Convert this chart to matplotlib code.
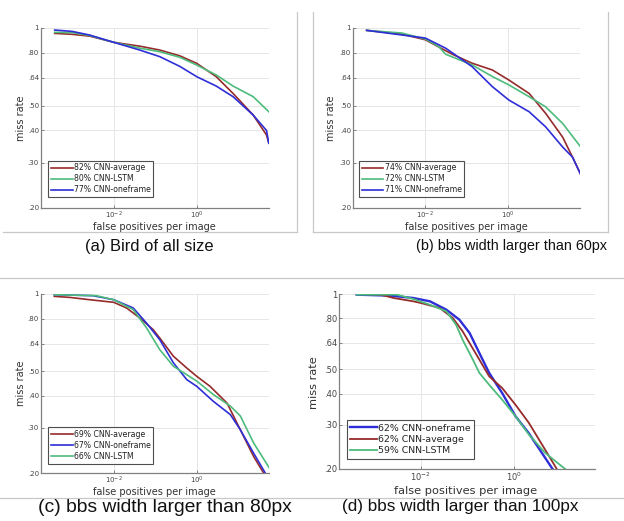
import numpy as np
import matplotlib
matplotlib.use("Agg")
import matplotlib.pyplot as plt
from matplotlib.lines import Line2D
from matplotlib.ticker import NullLocator, FixedLocator, FixedFormatter

# ---------------- data (log10 fppi, miss rate) ----------------
A_AVG_LX = [-3.42, -3.0, -2.58, -2.0, -1.37, -0.89, -0.41, 0.0, 0.47, 0.875, 1.36, 1.68, 1.735]
A_AVG_MR = [0.953, 0.945, 0.930, 0.880, 0.850, 0.821, 0.780, 0.729, 0.647, 0.557, 0.459, 0.384, 0.357]
A_LSTM_LX = [-3.42, -3.0, -2.58, -2.0, -1.37, -0.89, -0.41, 0.0, 0.47, 0.875, 1.36, 1.735]
A_LSTM_MR = [0.962, 0.960, 0.935, 0.880, 0.835, 0.809, 0.770, 0.718, 0.657, 0.595, 0.541, 0.473]
A_ONE_LX = [-3.42, -3.0, -2.58, -2.0, -1.37, -0.89, -0.41, 0.0, 0.47, 0.875, 1.36, 1.68, 1.735]
A_ONE_MR = [0.982, 0.970, 0.939, 0.880, 0.821, 0.774, 0.710, 0.647, 0.595, 0.541, 0.459, 0.400, 0.357]

B_AVG_LX = [-3.42, -2.57, -2.0, -1.35, -0.87, -0.38, 0.02, 0.51, 0.91, 1.32, 1.56, 1.77]
B_AVG_MR = [0.979, 0.947, 0.900, 0.791, 0.730, 0.687, 0.628, 0.557, 0.466, 0.377, 0.315, 0.267]
B_LSTM_LX = [-3.42, -2.57, -2.0, -1.68, -1.51, -0.87, -0.38, 0.02, 0.51, 0.91, 1.32, 1.77]
B_LSTM_MR = [0.979, 0.956, 0.906, 0.848, 0.791, 0.719, 0.648, 0.601, 0.541, 0.494, 0.426, 0.343]
B_ONE_LX = [-3.42, -2.0, -1.51, -0.87, -0.38, 0.02, 0.51, 0.91, 1.32, 1.56, 1.77]
B_ONE_MR = [0.979, 0.914, 0.835, 0.708, 0.592, 0.525, 0.473, 0.413, 0.345, 0.315, 0.267]

C_AVG_LX = [-3.43, -3.06, -2.58, -2.0, -1.69, -1.37, -1.05, -0.89, -0.56, -0.24, 0.0, 0.32, 0.73, 1.05, 1.37, 1.61]
C_AVG_MR = [0.979, 0.970, 0.950, 0.928, 0.882, 0.806, 0.726, 0.673, 0.571, 0.514, 0.477, 0.436, 0.375, 0.295, 0.232, 0.200]
C_ONE_LX = [-3.43, -2.5, -2.0, -1.53, -1.21, -0.89, -0.56, -0.24, 0.0, 0.40, 0.81, 1.05, 1.37, 1.65]
C_ONE_MR = [0.994, 0.985, 0.950, 0.882, 0.770, 0.663, 0.538, 0.463, 0.436, 0.381, 0.338, 0.295, 0.239, 0.200]
C_LSTM_LX = [-3.43, -2.42, -2.0, -1.53, -1.21, -0.89, -0.56, -0.24, 0.0, 0.40, 0.81, 1.05, 1.37, 1.75]
C_LSTM_MR = [0.994, 0.985, 0.950, 0.869, 0.738, 0.606, 0.522, 0.484, 0.457, 0.405, 0.365, 0.334, 0.262, 0.209]

D_ONE_LX = [-3.37, -2.65, -2.16, -1.80, -1.45, -1.17, -0.95, -0.74, -0.53, -0.25, 0.035, 0.32, 0.60, 0.83]
D_ONE_MR = [0.994, 0.985, 0.964, 0.935, 0.866, 0.790, 0.699, 0.581, 0.484, 0.402, 0.325, 0.278, 0.232, 0.200]
D_AVG_LX = [-3.37, -2.86, -2.58, -2.16, -2.0, -1.59, -1.31, -1.10, -0.95, -0.74, -0.53, -0.25, 0.035, 0.32, 0.67, 0.92]
D_AVG_MR = [1.000, 0.994, 0.964, 0.935, 0.921, 0.879, 0.802, 0.710, 0.637, 0.547, 0.469, 0.421, 0.361, 0.306, 0.239, 0.200]
D_LSTM_LX = [-3.37, -2.51, -2.16, -1.80, -1.45, -1.24, -1.10, -0.88, -0.74, -0.53, -0.25, 0.035, 0.32, 0.67, 1.10]
D_LSTM_MR = [0.994, 0.994, 0.955, 0.906, 0.853, 0.754, 0.657, 0.547, 0.484, 0.434, 0.378, 0.325, 0.275, 0.232, 0.200]

LEGEND_A = ["82% CNN-average", "80% CNN-LSTM", "77% CNN-oneframe"]
LEGEND_B = ["74% CNN-average", "72% CNN-LSTM", "71% CNN-oneframe"]
LEGEND_C = ["69% CNN-average", "67% CNN-oneframe", "66% CNN-LSTM"]
LEGEND_D = ["62% CNN-oneframe", "62% CNN-average", "59% CNN-LSTM"]

CAPTIONS = ["(a) Bird of all size", "(b) bbs width larger than 60px",
            "(c) bbs width larger than 80px", "(d) bbs width larger than 100px"]

Y_TICKS = [0.20, 0.30, 0.40, 0.50, 0.64, 0.80, 1.0]
Y_TICKLABELS = [".20", ".30", ".40", ".50", ".64", ".80", "1"]
X_TICKS = [1e-2, 1e0]
X_TICKLABELS = [r"$10^{-2}$", r"$10^{0}$"]

RED = "#962b2b"
GREEN = "#4dbb7c"
BLUE = "#2e2ed8"

# ---------------- figure ----------------
W, H = 624, 521
fig = plt.figure(figsize=(W / 100, H / 100), dpi=100)
fig.patch.set_facecolor("white")


def fx(x):
    return x / W


def fy(y):
    return 1 - y / H


def add_ax(l, r, t, b):
    return fig.add_axes([l / W, 1 - b / H, (r - l) / W, (b - t) / H])


def style(ax, scale=1.0):
    ax.set_xscale("log")
    ax.set_yscale("log")
    ax.set_xlim(10 ** -3.75, 10 ** 1.74)
    ax.set_ylim(0.2, 1.0)
    ax.yaxis.set_major_locator(FixedLocator(Y_TICKS))
    ax.yaxis.set_major_formatter(FixedFormatter(Y_TICKLABELS))
    ax.yaxis.set_minor_locator(NullLocator())
    ax.xaxis.set_major_locator(FixedLocator(X_TICKS))
    ax.xaxis.set_major_formatter(FixedFormatter(X_TICKLABELS))
    ax.xaxis.set_minor_locator(NullLocator())
    for s in ["top", "right"]:
        ax.spines[s].set_visible(False)
    for s in ["left", "bottom"]:
        ax.spines[s].set_color("#808080")
        ax.spines[s].set_linewidth(0.9)
    ax.tick_params(direction="in", length=2.5, width=0.7, color="#808080",
                   labelsize=5.0 * scale, labelcolor="#444444", pad=1.5)
    ax.grid(True, color="#e6e6e6", linewidth=0.7)
    ax.set_axisbelow(True)


def panel(ax, series, labels, anchor, scale=1.0, lws=(1.2, 1.2, 1.2)):
    style(ax, scale)
    handles = []
    for (lx, mr, col), lw in zip(series, lws):
        h, = ax.plot(10 ** np.array(lx), mr, color=col, linewidth=lw)
        handles.append(h)
    leg = ax.legend(handles, labels, loc="lower left", bbox_to_anchor=anchor,
                    borderaxespad=0, fontsize=5.6 * scale, frameon=True,
                    fancybox=False, edgecolor="#222222", handlelength=2.8,
                    handletextpad=0.15, labelspacing=0.25, borderpad=0.35)
    leg.get_frame().set_linewidth(0.8)
    for t in leg.get_texts():
        t.set_color("#222222")


# (a)
ax_a = add_ax(41, 269, 28, 208)
panel(ax_a, [(A_AVG_LX, A_AVG_MR, RED), (A_LSTM_LX, A_LSTM_MR, GREEN),
             (A_ONE_LX, A_ONE_MR, BLUE)], LEGEND_A, (0.031, 0.061))
# (b)
ax_b = add_ax(353, 580, 28, 208)
panel(ax_b, [(B_AVG_LX, B_AVG_MR, RED), (B_LSTM_LX, B_LSTM_MR, GREEN),
             (B_ONE_LX, B_ONE_MR, BLUE)], LEGEND_B, (0.026, 0.061))
# (c)
ax_c = add_ax(41, 269, 294, 473)
panel(ax_c, [(C_AVG_LX, C_AVG_MR, RED), (C_ONE_LX, C_ONE_MR, BLUE),
             (C_LSTM_LX, C_LSTM_MR, GREEN)], LEGEND_C, (0.031, 0.052))
# (d)
ax_d = add_ax(339, 595, 294, 469)
panel(ax_d, [(D_ONE_LX, D_ONE_MR, BLUE), (D_AVG_LX, D_AVG_MR, RED),
             (D_LSTM_LX, D_LSTM_MR, GREEN)], LEGEND_D, (0.032, 0.059),
      scale=1.2, lws=(1.7, 1.3, 1.3))

# axis labels
lab = dict(color="#333333", family="DejaVu Sans")
fig.text(fx(154), fy(227), "false positives per image", ha="center", va="center", fontsize=7.0, **lab)
fig.text(fx(21), fy(118), "miss rate", ha="center", va="center", rotation=90, fontsize=7.0, **lab)
fig.text(fx(466), fy(227), "false positives per image", ha="center", va="center", fontsize=7.0, **lab)
fig.text(fx(331), fy(118), "miss rate", ha="center", va="center", rotation=90, fontsize=7.0, **lab)
fig.text(fx(154), fy(492), "false positives per image", ha="center", va="center", fontsize=7.0, **lab)
fig.text(fx(21), fy(383), "miss rate", ha="center", va="center", rotation=90, fontsize=7.0, **lab)
fig.text(fx(466), fy(491), "false positives per image", ha="center", va="center", fontsize=8.2, **lab)
fig.text(fx(314), fy(383), "miss rate", ha="center", va="center", rotation=90, fontsize=8.2, **lab)

# captions
cap = dict(ha="center", va="center", color="#111111", family="Liberation Sans")
fig.text(fx(149), fy(246), CAPTIONS[0], fontsize=11.9, **cap)
fig.text(fx(511), fy(246), CAPTIONS[1], fontsize=10.4, **cap)
fig.text(fx(165), fy(507), CAPTIONS[2], fontsize=13.9, **cap)
fig.text(fx(460), fy(507), CAPTIONS[3], fontsize=12.3, **cap)

# panel border lines
def fline(x0, y0, x1, y1):
    fig.add_artist(Line2D([fx(x0), fx(x1)], [fy(y0), fy(y1)], color="#c8c8c8",
                          linewidth=0.9, transform=fig.transFigure))

fline(297, 12, 297, 232)
fline(3, 232, 297, 232)
fline(313, 12, 313, 232)
fline(608, 12, 608, 232)
fline(313, 232, 608, 232)
fline(0, 278, 624, 278)
fline(0, 498, 624, 498)

fig.savefig("out.png", dpi=100, facecolor="white")
